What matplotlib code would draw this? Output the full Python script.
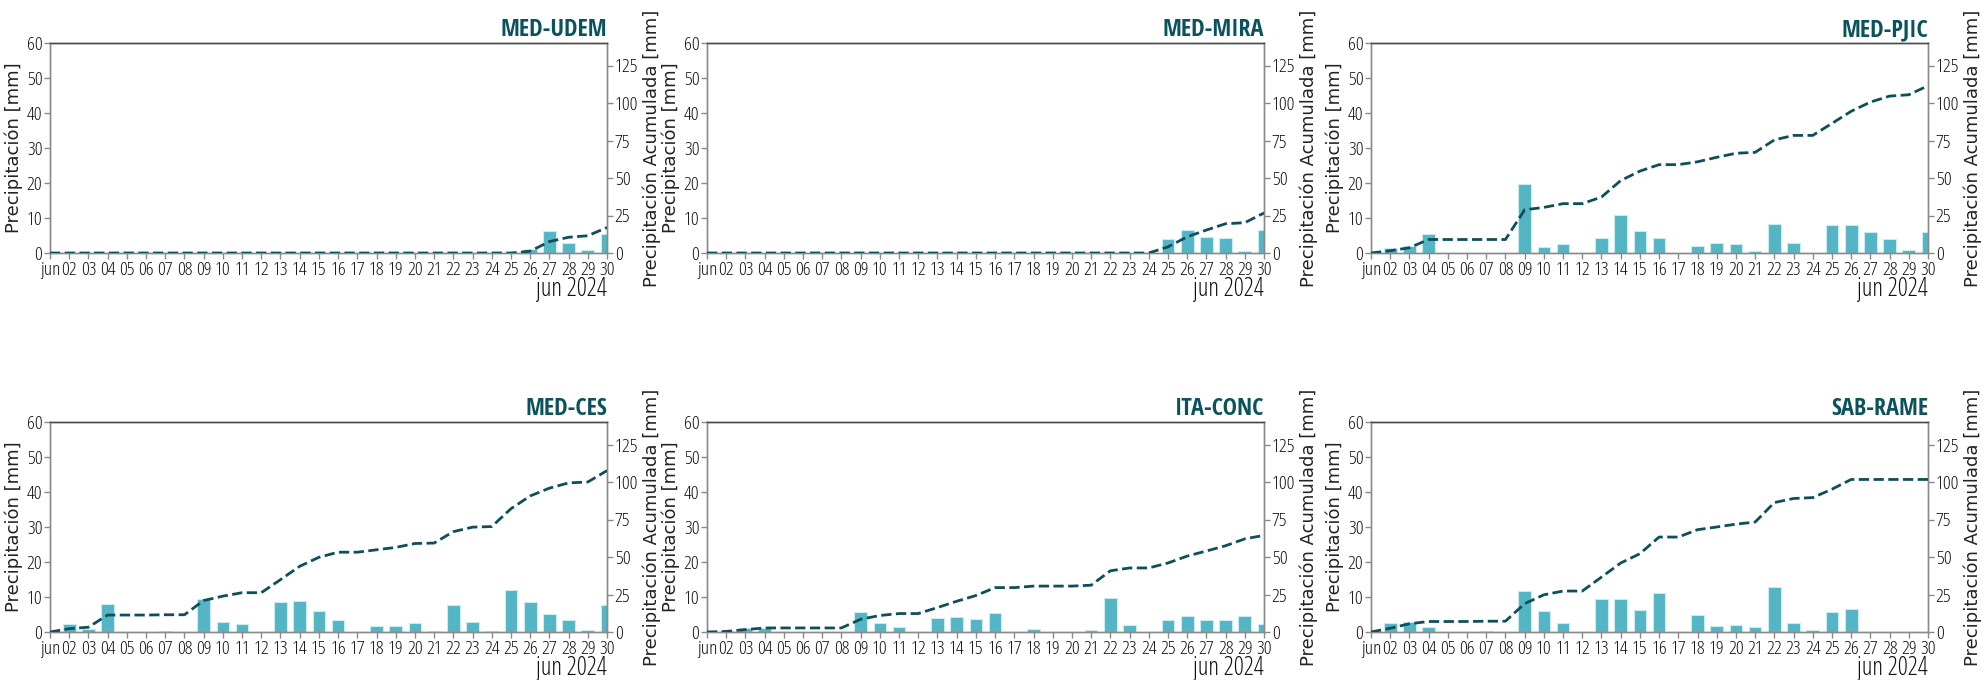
import matplotlib
matplotlib.use("Agg")
import matplotlib.pyplot as plt
from matplotlib import font_manager as fm
import numpy as np

# ---------------- data ----------------
days = list(range(1, 31))
tick_labels = ["jun"] + [f"{d:02d}" for d in range(2, 31)]
month_label = "jun 2024"

stations = ["MED-UDEM", "MED-MIRA", "MED-PJIC", "MED-CES", "ITA-CONC", "SAB-RAME"]

udem = [0]*25 + [1.2, 6.4, 2.9, 1.0, 5.5]
mira = [0]*24 + [4.1, 6.7, 4.5, 4.2, 0.7, 6.5]
pjic = [0, 1.5, 2.0, 5.5, 0, 0, 0, 0, 19.8, 1.6, 2.5, 0, 4.4, 11.0, 6.3,
        4.3, 0, 1.9, 3.0, 2.7, 0.6, 8.3, 3.0, 0, 8.0, 8.1, 6.1, 4.0, 0.9, 6.0]
ces = [0, 2.2, 1.0, 8.1, 0, 0, 0.2, 0, 9.5, 2.9, 2.3, 0, 8.7, 8.9, 6.0,
       3.4, 0, 1.6, 1.6, 2.6, 0.3, 7.6, 3.0, 0.4, 11.9, 8.5, 5.2, 3.5, 0.6, 7.6]
conc = [0, 0.4, 1.2, 1.1, 0, 0, 0, 0, 5.8, 2.5, 1.3, 0, 4.0, 4.2, 3.8,
        5.3, 0, 1.0, 0, 0, 0.6, 9.6, 1.9, 0, 3.3, 4.6, 3.4, 3.5, 4.6, 2.3]
rame = [0, 2.5, 3.0, 1.5, 0, 0, 0.2, 0, 11.7, 5.9, 2.5, 0, 9.3, 9.4, 6.2,
        11.1, 0, 4.9, 1.8, 1.9, 1.4, 13.0, 2.7, 0.6, 5.6, 6.5, 0, 0, 0, 0]

series = [udem, mira, pjic, ces, conc, rame]

left_ticks = [0, 10, 20, 30, 40, 50, 60]
right_ticks = [0, 25, 50, 75, 100, 125]

# ---------------- fonts ----------------
def find_font(name, stretch, weight):
    for f in fm.fontManager.ttflist:
        if f.name == name and f.stretch == stretch and f.weight == weight and f.style == "normal":
            return f.fname
    return None

light_path = find_font("Open Sans", "condensed", 300)
bold_path = find_font("Open Sans Condensed", "condensed", 700)
tick_fp = fm.FontProperties(fname=light_path, size=14) if light_path else fm.FontProperties(family="DejaVu Sans", stretch="condensed", size=10.5)
month_fp = fm.FontProperties(fname=light_path, size=18) if light_path else fm.FontProperties(family="DejaVu Sans", stretch="condensed", size=14)
title_fp = fm.FontProperties(fname=bold_path, size=17.5) if bold_path else fm.FontProperties(family="DejaVu Sans", weight="bold", stretch="condensed", size=15)

BAR = "#54b6c4"
BAR_EDGE = "#c8ecf1"
LINE = "#0d505a"
TITLE = "#0b535c"
SPINE = "#8a8a8a"

W, H = 1988, 680
fig = plt.figure(figsize=(W/100, H/100), dpi=100)

col_left = [50, 707, 1371]
ax_w = 557
row_top = [43, 422]
ax_h = 210

for i, (name, vals) in enumerate(zip(stations, series)):
    r, c = divmod(i, 3)
    x0 = col_left[c] / W
    y0 = 1 - (row_top[r] + ax_h) / H
    ax = fig.add_axes([x0, y0, ax_w / W, ax_h / H])
    ax2 = ax.twinx()

    ax.bar(days, vals, width=0.66, color=BAR, edgecolor=BAR_EDGE, linewidth=0.8, zorder=2)
    ax2.plot(days, np.cumsum(vals), color=LINE, linestyle="--", linewidth=2.0, zorder=3)

    ax.set_xlim(1, 30)
    ax.set_ylim(0, 60)
    ax2.set_ylim(0, 140)
    ax.set_xticks(days)
    ax.set_xticklabels(tick_labels, fontproperties=tick_fp)
    ax.set_yticks(left_ticks)
    ax.set_yticklabels([str(t) for t in left_ticks], fontproperties=tick_fp)
    ax2.set_yticks(right_ticks)
    ax2.set_yticklabels([str(t) for t in right_ticks], fontproperties=tick_fp)

    for a in (ax, ax2):
        a.tick_params(colors=SPINE, labelcolor="#111111", length=4.0, width=1.0, pad=1.5)
        for s in a.spines.values():
            s.set_color(SPINE)
            s.set_linewidth(1.0)
        a.spines["top"].set_color("#4a4a4a")

    ax.set_ylabel("Precipitación [mm]", fontsize=13, family="DejaVu Sans", color="#222222", labelpad=3)
    ax2.set_ylabel("Precipitación Acumulada [mm]", fontsize=13, family="DejaVu Sans", color="#222222", labelpad=3)

    ax.set_title(name, loc="right", fontproperties=title_fp, color=TITLE, pad=5)
    ax.annotate(month_label, xy=(1, 0), xycoords="axes fraction", xytext=(0, -31),
                textcoords="offset points", ha="right", va="baseline",
                fontproperties=month_fp, color="#111111")

fig.savefig("out.png", dpi=100)
